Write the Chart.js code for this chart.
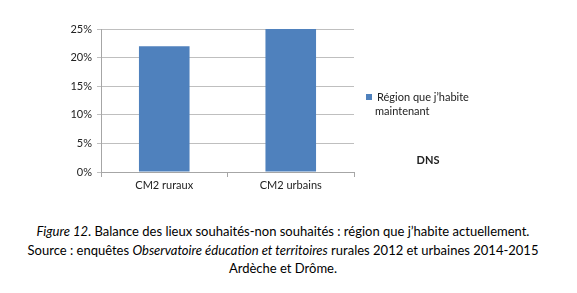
<!DOCTYPE html>
<html lang="fr">
<head>
<meta charset="utf-8">
<title>Figure 12</title>
<script src="https://cdn.jsdelivr.net/npm/chart.js@4/dist/chart.umd.min.js"></script>
<style>
    body { margin: 0; background: #fff; font-family: Lato, "Open Sans", sans-serif; }
    #zone { position: relative; width: 577px; height: 293px; }
    #boite { position: absolute; left: 0; top: 0; width: 577px; height: 200px; }
    #legende { position: absolute; left: 366px; top: 90px; font-size: 11px; color: #222; line-height: 14px; }
    #legende .carre { display: inline-block; width: 6px; height: 6px; background: #4f81bd; margin-right: 5px; vertical-align: 1px; }
    #legende .suite { padding-left: 9px; }
    #dns { position: absolute; left: 407px; top: 153px; width: 42px; text-align: center; font-size: 11px; font-weight: bold; color: #222; }
    #legende-fig { position: absolute; left: 0; top: 222px; width: 566px; text-align: center; font-size: 13px; line-height: 18.5px; color: #000; }
</style>
</head>
<body>
<div id="zone">
    <div id="boite"><canvas id="grafica"></canvas></div>
    <div id="legende"></div>
    <div id="dns"></div>
    <div id="legende-fig"></div>
</div>
<script>
// Données du graphique
const categorias = ['CM2 ruraux', 'CM2 urbains'];
const valores = [0.22, 0.25];
const serie = 'Région que j\u2019habite maintenant';
const etiquetas = ['0%', '5%', '10%', '15%', '20%', '25%'];
const nota = 'DNS';

window.onload = function () {
    leyenda();
    grafica();
};

const leyenda = () => {
    // Légende à droite, sur deux lignes comme dans la figure
    document.getElementById('legende').innerHTML =
        '<div><span class="carre"></span>R\u00e9gion que j\u2019habite</div><div class="suite">maintenant</div>';
    document.getElementById('dns').textContent = nota;
    document.getElementById('legende-fig').innerHTML =
        '<i>Figure 12</i>. Balance des lieux souhait\u00e9s-non souhait\u00e9s : r\u00e9gion que j\u2019habite actuellement.<br>' +
        'Source : enqu\u00eates <i>Observatoire \u00e9ducation et territoires</i> rurales 2012 et urbaines 2014-2015<br>' +
        'Ard\u00e8che et Dr\u00f4me.';
};

const grafica = () => {
    const ctx = document.getElementById('grafica').getContext('2d');
    new Chart(ctx, {
        type: 'bar',
        data: {
            labels: categorias,
            datasets: [{
                label: serie,
                data: valores,
                backgroundColor: '#4f81bd',
                barPercentage: 0.4,
                categoryPercentage: 1
            }]
        },
        options: {
            responsive: true,
            maintainAspectRatio: false,
            animation: false,
            layout: { padding: { left: 0, right: 223, top: 29, bottom: 0 } },
            plugins: {
                legend: { display: false },
                tooltip: { enabled: false }
            },
            scales: {
                x: {
                    offset: true,
                    grid: { offset: true, drawOnChartArea: false, color: '#a6a6a6', tickLength: 5 },
                    border: { color: '#a6a6a6' },
                    ticks: { color: '#222', font: { family: 'Lato', size: 11 }, padding: 2 },
                    afterFit: (axis) => { axis.height = 28; }
                },
                y: {
                    min: 0,
                    max: 0.25,
                    grid: { color: '#bfbfbf', tickLength: 4 },
                    border: { color: '#a6a6a6' },
                    ticks: {
                        stepSize: 0.05,
                        color: '#222',
                        font: { family: 'Lato', size: 11 },
                        padding: 5,
                        callback: (v, i) => etiquetas[i]
                    },
                    afterFit: (axis) => { axis.width = 101; }
                }
            }
        }
    });
};
</script>
</body>
</html>
